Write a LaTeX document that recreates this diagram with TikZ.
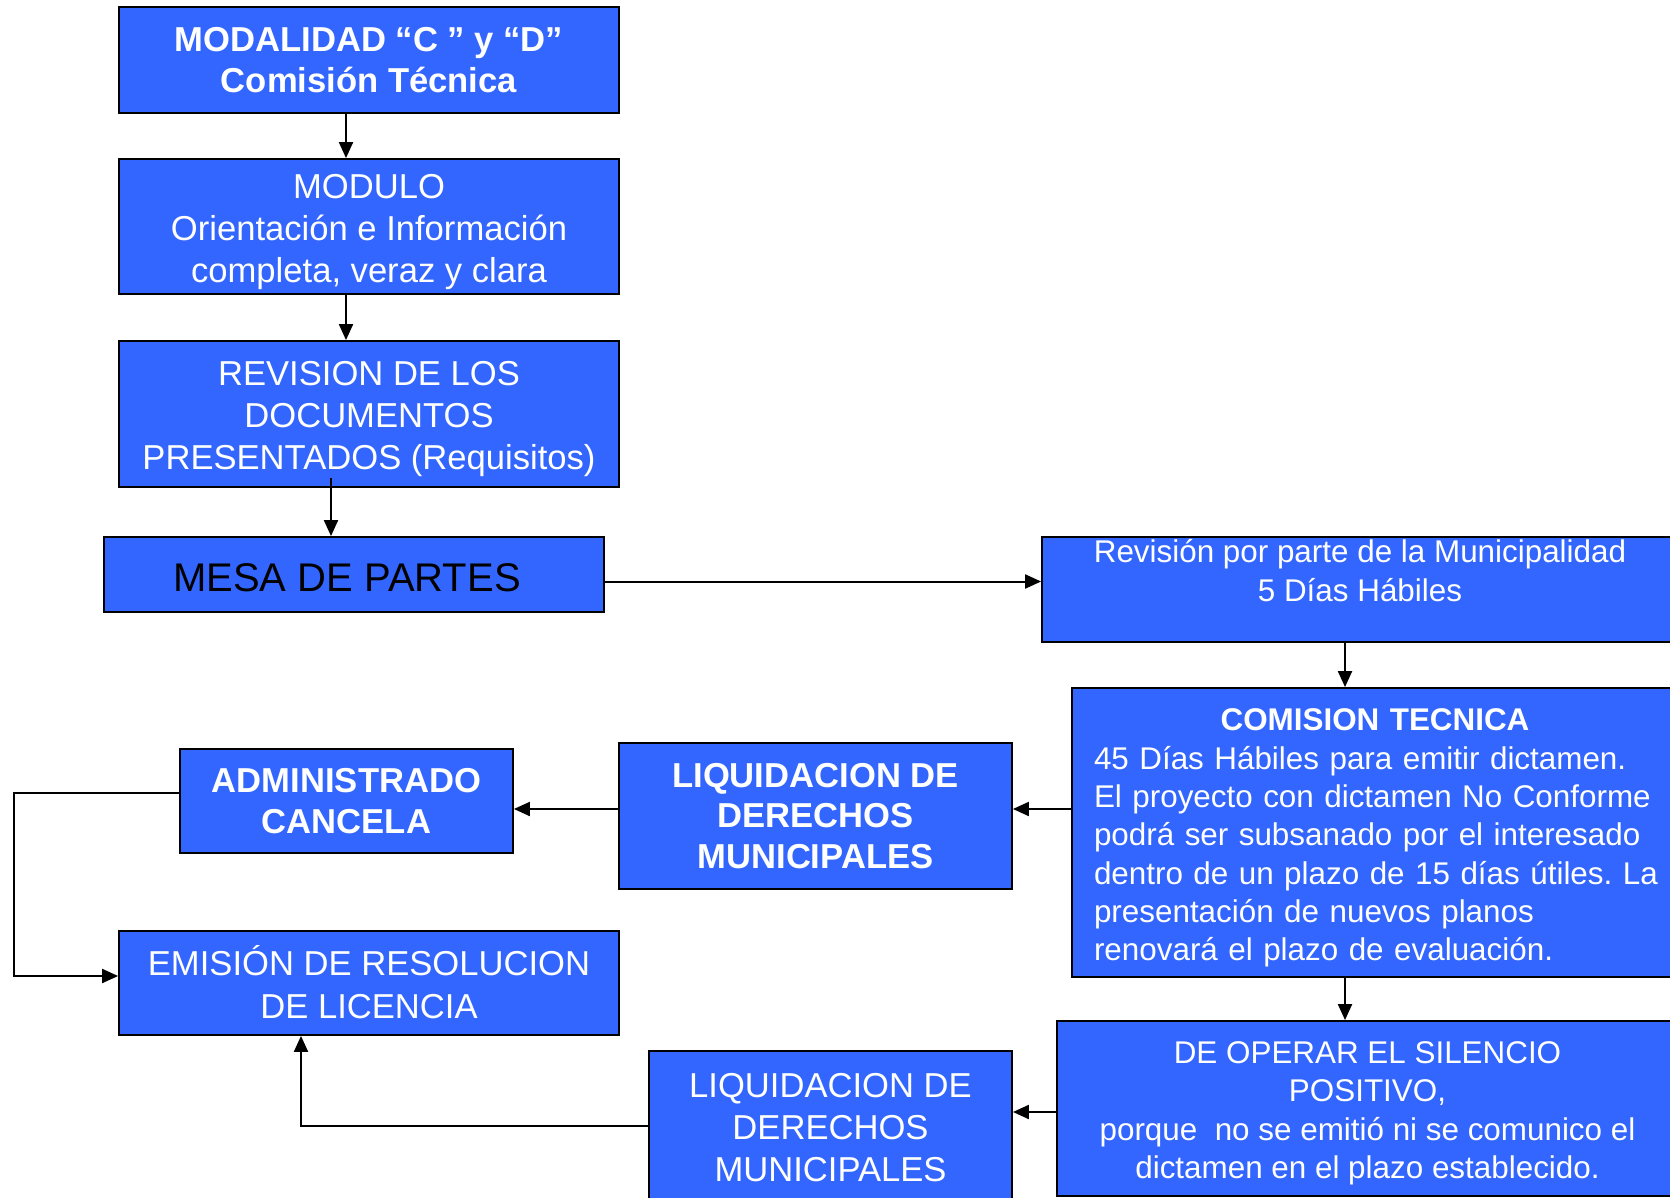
\documentclass[tikz,border=0pt]{standalone}
\usepackage{fontspec}
\setmainfont{Liberation Sans}
\usepackage{tikz}
\usetikzlibrary{arrows.meta,calc,positioning}
\definecolor{boxblue}{RGB}{51,102,255}
\frenchspacing
\tikzset{>={Triangle[length=8pt,width=7pt]},
	box/.style={rectangle,draw=black,fill=boxblue,line width=0.9pt,inner sep=0pt,text=white,align=center,font=\fontsize{17.3}{21.2}\selectfont},
	bbox/.style={box,font=\fontsize{17.3}{20.3}\selectfont\bfseries},
	sbox/.style={box,font=\fontsize{15.7}{19.15}\selectfont},
	lower/.style={text depth=0pt,text height=#1},
	link/.style={line width=1pt}}

\begin{document}
\begin{tikzpicture}[x=0.5pt,y=-0.5pt]
	\useasboundingbox (0,0) rectangle (1670,1198);
	\clip (0,0) rectangle (1670,1198);
	\node (mod) at (369,60) [bbox,minimum width=250pt,minimum height=52.75pt] {MODALIDAD “C ” y “D”\\Comisión Técnica};
	\node (modulo) at (369,226.5) [box,lower=56.5pt,minimum width=250pt,minimum height=67.5pt] {MODULO\\Orientación e Información\\completa, veraz y clara};
	\node (rev) at (369,414) [box,lower=55.9pt,minimum width=250pt,minimum height=73pt] {REVISION DE LOS\\DOCUMENTOS\\PRESENTADOS (Requisitos)};
	\node (mesa) at (354,574.5) [box,lower=17.3pt,text=black,font=\fontsize{20}{24}\selectfont,minimum width=250pt,minimum height=37.5pt] {\hspace*{-7pt}MESA DE PARTES};
	\node (muni) at (1360,589.5) [sbox,minimum width=318pt,minimum height=52.5pt] {Revisión por parte de la Municipalidad\\5 Días Hábiles\\\mbox{}};
	\node (com) at (1375,832.5) [sbox,align=left,text width=290pt,text height=16.5pt,minimum width=303pt,minimum height=144.5pt] {\leftskip=4.5pt\makebox[\dimexpr\linewidth-9pt\relax][c]{\bfseries COMISION TECNICA}\\45 Días Hábiles para emitir dictamen.\\El proyecto con dictamen No Conforme\\podrá ser subsanado por el interesado\\dentro de un plazo de 15 días útiles. La\\presentación de nuevos planos\\renovará el plazo de evaluación.\par};
	\node (liq1) at (815.5,816) [bbox,minimum width=196.5pt,minimum height=73pt] {LIQUIDACION DE\\DERECHOS\\MUNICIPALES};
	\node (adm) at (346.5,801) [bbox,font=\fontsize{17.3}{20.6}\selectfont\bfseries,minimum width=166.5pt,minimum height=52pt] {ADMINISTRADO\\CANCELA};
	\node (emi) at (369,983) [box,lower=35.6pt,font=\fontsize{17.3}{21.6}\selectfont,minimum width=250pt,minimum height=52pt] {EMISIÓN DE RESOLUCION\\DE LICENCIA};
	\node (sil) at (1367.5,1108.5) [sbox,lower=69.9pt,minimum width=310.5pt,minimum height=87.5pt] {DE OPERAR EL SILENCIO\\POSITIVO,\\porque\ \ no se emitió ni se comunico el\\dictamen en el plazo establecido.};
	\node (liq2) at (830.5,1128) [box,font=\fontsize{17.3}{21}\selectfont,minimum width=181.5pt,minimum height=77pt] {LIQUIDACION DE\\DERECHOS\\MUNICIPALES};
	\coordinate (c1) at (14,793);
	\coordinate (c2) at (14,976);
	\coordinate (c3) at (301,1126);
	\draw[link,->] ([xshift=-11.5pt]mod.south) -- ([xshift=-11.5pt]modulo.north);
	\draw[link,->] ([xshift=-11.5pt]modulo.south) -- ([xshift=-11.5pt]rev.north);
	\draw[link,->] ([xshift=-19pt,yshift=5pt]rev.south) -- ([xshift=-19pt]rev.south |- mesa.north);
	\draw[link,->] ([yshift=-3.5pt]mesa.east) -- ([yshift=-3.5pt]mesa.east -| muni.west);
	\draw[link,->] ([xshift=-7.5pt]muni.south) -- ([xshift=-7.5pt]muni.south |- com.north);
	\draw[link,->] ([yshift=11.75pt]com.west) -- ([yshift=11.75pt]com.west -| liq1.east);
	\draw[link,->] ([yshift=3.5pt]liq1.west) -- ([yshift=3.5pt]liq1.west -| adm.east);
	\draw[link,->] (adm.west |- c1) -- (c1) -- (c2) -- (emi.west |- c2);
	\draw[link,->] ([xshift=-15pt,yshift=1pt]com.south) -- ([xshift=-15pt]com.south |- sil.north);
	\draw[link,->] ([yshift=-1.75pt]sil.west) -- ([yshift=-1.75pt]sil.west -| liq2.east);
	\draw[link,->] (liq2.west |- c3) -- (c3) -- (c3 |- emi.south);
\end{tikzpicture}
\end{document}
